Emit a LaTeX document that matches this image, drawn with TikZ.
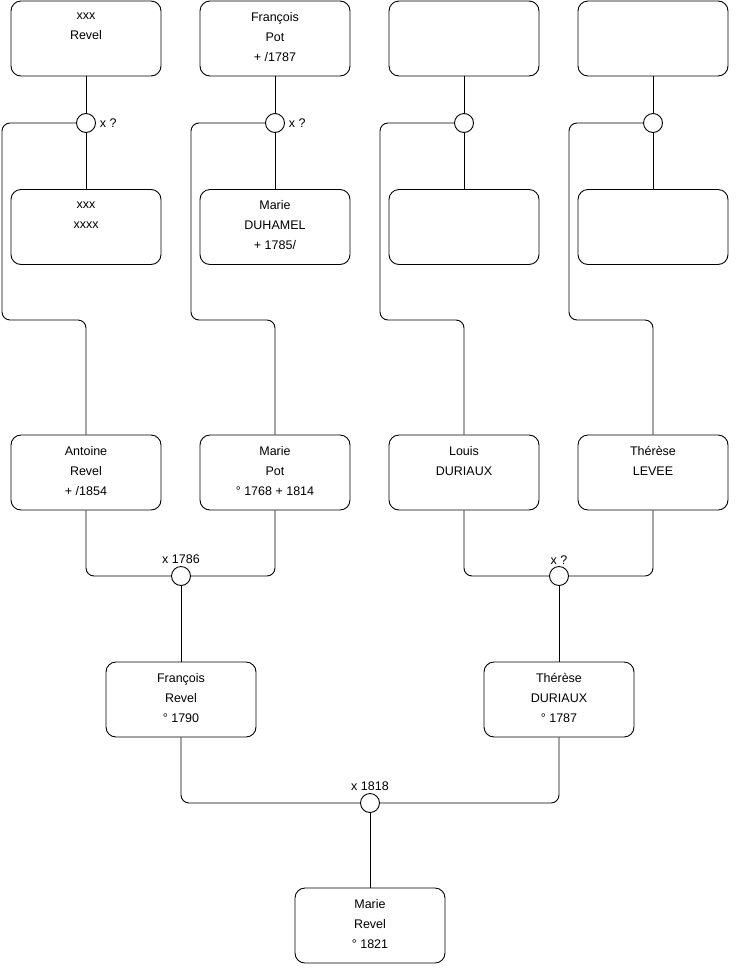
\documentclass[tikz,border=0pt]{standalone}
\usepackage{fontspec}
\setmainfont{Liberation Sans}

\begin{document}
\begin{tikzpicture}[x=1pt, y=-1pt, line width=0.9pt,
    person/.style={draw, rounded corners=10pt, minimum width=150pt, minimum height=75pt,
        align=center, font=\fontsize{12.5}{20}\selectfont, text depth=4pt},
    union/.style={draw, circle, minimum size=19pt, inner sep=0pt, fill=white},
    note/.style={font=\fontsize{12.5}{14}\selectfont, inner sep=1.5pt},
    link/.style={rounded corners=8pt}]
    \useasboundingbox[fill=white] (0,0) rectangle (740,975);

    % Great-grandparents
    \node[person] (a1) at (86,38.5) {xxx\\Revel\\~};
    \node[person] (a2) at (275,38.5) {François\\Pot\\+ /1787};
    \node[person] (a3) at (464,38.5) {};
    \node[person] (a4) at (653,38.5) {};

    \node[person] (b1) at (86,227) {xxx\\xxxx\\~};
    \node[person] (b2) at (275,227) {Marie\\DUHAMEL\\+ 1785/};
    \node[person] (b3) at (464,227) {};
    \node[person] (b4) at (653,227) {};

    % Unions of the great-grandparents
    \node[union, label={[note, label distance=2pt]right:x ?}] (u1) at (86,123) {};
    \node[union, label={[note, label distance=2pt]right:x ?}] (u2) at (275,123) {};
    \node[union] (u3) at (464,123) {};
    \node[union] (u4) at (653,123) {};

    \draw (a1) -- (u1);  \draw (u1) -- (b1);
    \draw (a2) -- (u2);  \draw (u2) -- (b2);
    \draw (a3) -- (u3);  \draw (u3) -- (b3);
    \draw (a4) -- (u4);  \draw (u4) -- (b4);

    % Grandparents
    \node[person] (p1) at (86,472.5) {Antoine\\Revel\\+ /1854};
    \node[person] (p2) at (275,472.5) {Marie\\Pot\\° 1768 + 1814};
    \node[person] (p3) at (464,472.5) {Louis\\DURIAUX\\~};
    \node[person] (p4) at (653,472.5) {Thérèse\\LEVEE\\~};

    \draw[link] (u1.west) -| (2,320) -| (p1.north);
    \draw[link] (u2.west) -| (191,320) -| (p2.north);
    \draw[link] (u3.west) -| (380,320) -| (p3.north);
    \draw[link] (u4.west) -| (569,320) -| (p4.north);

    % Parents
    \node[union, label={[note]above:x 1786}] (u5) at (181,576) {};
    \node[union, label={[note]above:x ?}] (u6) at (559,576) {};
    \node[person] (f1) at (181,699.5) {François\\Revel\\° 1790};
    \node[person] (f2) at (559,699.5) {Thérèse\\DURIAUX\\° 1787};

    \draw[link] (p1.south) |- (u5.west);
    \draw[link] (p2.south) |- (u5.east);
    \draw[link] (p3.south) |- (u6.west);
    \draw[link] (p4.south) |- (u6.east);
    \draw (u5) -- (f1);
    \draw (u6) -- (f2);

    % Child
    \node[union, label={[note]above:x 1818}] (u7) at (370,803) {};
    \node[person] (m) at (370,925.5) {Marie\\Revel\\° 1821};

    \draw[link] (f1.south) |- (u7.west);
    \draw[link] (f2.south) |- (u7.east);
    \draw (u7) -- (m);
\end{tikzpicture}
\end{document}
